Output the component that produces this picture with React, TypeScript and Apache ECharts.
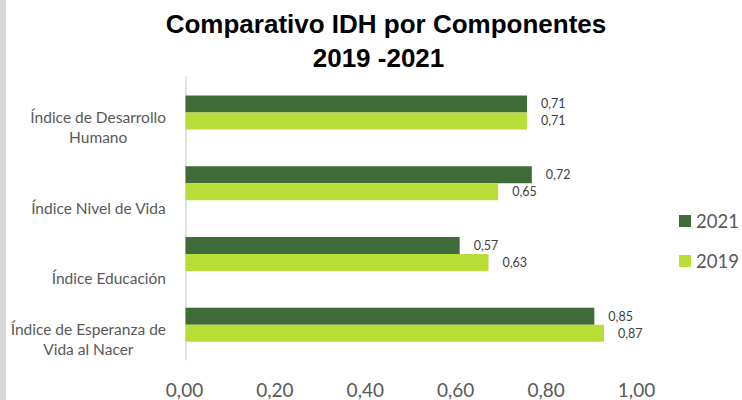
import React, { useEffect, useRef } from "react";
import * as echarts from "echarts";

const categories = [
  "Índice de Desarrollo\nHumano",
  "Índice Nivel de Vida",
  "Índice Educación",
  "Índice de Esperanza de\nVida al Nacer",
];
const seriesNames = ["2021", "2019"];
const values2021 = [0.71, 0.72, 0.57, 0.85];
const values2019 = [0.71, 0.65, 0.63, 0.87];
const titleLine1 = "Comparativo IDH por Componentes";
const titleLine2 = "2019 -2021";
const axisMin = 0;
const axisMax = 1;
const axisStep = 0.2;

const fmt = (v: number) => v.toFixed(2).replace(".", ",");
const FONT = "Lato, 'Open Sans', sans-serif";
const GRAY = "#595959";

export default function App() {
  const ref = useRef<HTMLDivElement>(null);
  useEffect(() => {
    if (!ref.current) return;
    const chart = echarts.init(ref.current, null, { renderer: "svg" });
    const barLabel = {
      show: true,
      position: "right",
      distance: 14,
      color: "#404040",
      fontSize: 12.5,
      fontFamily: FONT,
      formatter: (p: any) => fmt(p.value),
    };
    chart.setOption({
      animation: false,
      backgroundColor: "#ffffff",
      title: [
        {
          text: titleLine1,
          left: 386,
          top: 7,
          textAlign: "center",
          padding: 0,
          textStyle: { fontFamily: "'Liberation Sans', Arial, sans-serif", fontWeight: "bold", fontSize: 26, lineHeight: 34, color: "#000" },
        },
        {
          text: titleLine2,
          left: 378.5,
          top: 41,
          textAlign: "center",
          padding: 0,
          textStyle: { fontFamily: "'Liberation Sans', Arial, sans-serif", fontWeight: "bold", fontSize: 26, lineHeight: 34, color: "#000" },
        },
      ],
      graphic: [
        { type: "rect", left: 0, top: 0, shape: { width: 6, height: 400 }, style: { fill: "#d9d9d9" }, silent: true },
      ],
      legend: {
        orient: "vertical",
        left: 679,
        top: 211,
        padding: 0,
        itemWidth: 12,
        itemHeight: 12,
        itemGap: 20,
        icon: "rect",
        data: seriesNames,
        textStyle: { fontFamily: FONT, fontSize: 18.5, lineHeight: 20, color: GRAY },
      },
      grid: [
        { left: 185.5, top: 77, width: 481, height: 283 },
        { left: 185.5, top: 111.5, width: 481, height: 283 },
        { left: 184.5, top: 77, width: 452, height: 283 },
      ],
      xAxis: [
        { type: "value", gridIndex: 0, min: axisMin, max: axisMax, show: false },
        { type: "value", gridIndex: 1, min: axisMin, max: axisMax, show: false },
        {
          type: "value",
          gridIndex: 2,
          min: axisMin,
          max: axisMax,
          interval: axisStep,
          axisLine: { show: false },
          axisTick: { show: false },
          splitLine: { show: false },
          axisLabel: {
            margin: 19,
            fontSize: 19,
            lineHeight: 20,
            color: GRAY,
            fontFamily: FONT,
            formatter: (v: number) => fmt(v),
          },
        },
      ],
      yAxis: [
        {
          type: "category",
          gridIndex: 0,
          inverse: true,
          data: categories,
          axisLine: { show: true, lineStyle: { color: "#d9d9d9", width: 1.5 } },
          axisTick: { show: false },
          axisLabel: { show: false },
          splitLine: { show: false },
        },
        {
          type: "category",
          gridIndex: 1,
          inverse: true,
          data: categories,
          axisLine: { show: false },
          axisTick: { show: false },
          splitLine: { show: false },
          axisLabel: {
            margin: 19.5,
            verticalAlign: "bottom",
            formatter: (v: string) => v.split("\n").map((s) => "{c|" + s + "}").join("\n"),
            rich: {
              c: { align: "center", fontSize: 15.5, lineHeight: 20, color: GRAY, fontFamily: FONT },
            },
          },
        },
        { type: "category", gridIndex: 2, data: categories, show: false },
      ],
      series: [
        {
          name: seriesNames[0],
          type: "bar",
          xAxisIndex: 0,
          yAxisIndex: 0,
          data: values2021,
          barWidth: 17,
          barGap: "0%",
          itemStyle: { color: "#3e6b37" },
          label: barLabel,
        },
        {
          name: seriesNames[1],
          type: "bar",
          xAxisIndex: 0,
          yAxisIndex: 0,
          data: values2019,
          barWidth: 17,
          barGap: "0%",
          itemStyle: { color: "#b8dc38" },
          label: barLabel,
        },
      ],
    });
    return () => chart.dispose();
  }, []);
  return (
    <div
      ref={ref}
      style={{ position: "absolute", left: 0, top: 0, width: 742, height: 400, background: "#fff" }}
    />
  );
}
